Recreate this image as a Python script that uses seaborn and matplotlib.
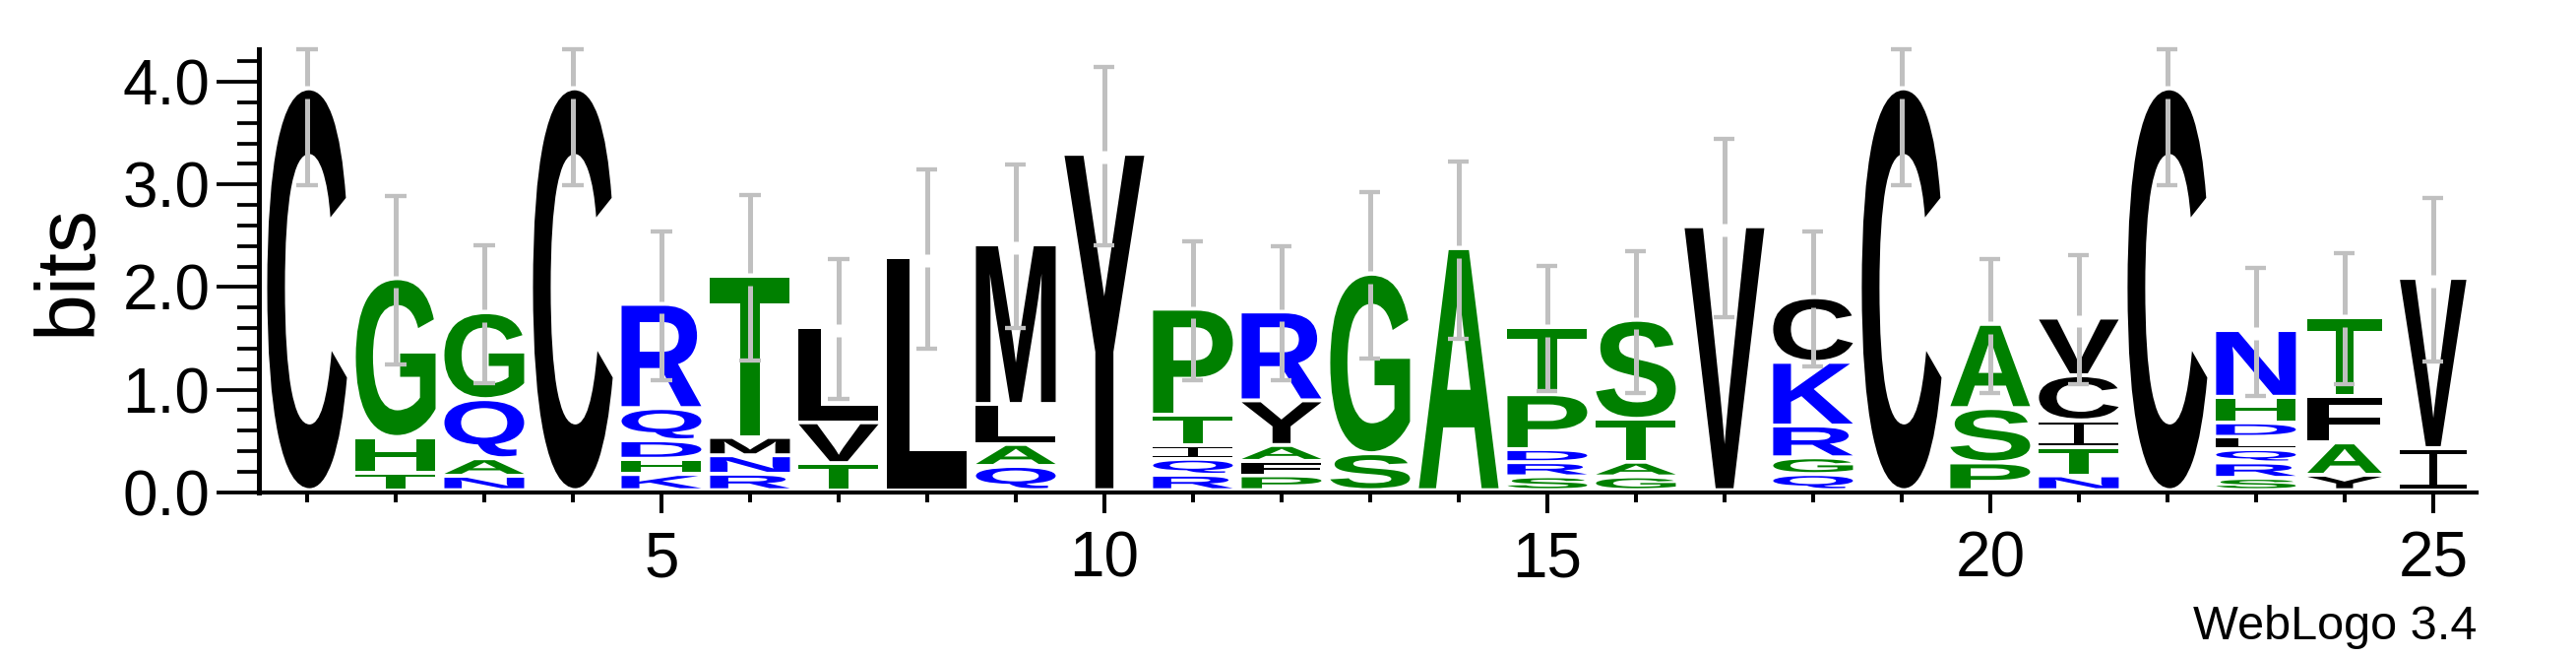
import matplotlib
matplotlib.use("Agg")
import matplotlib.pyplot as plt
import seaborn as sns
from matplotlib.textpath import TextPath
from matplotlib.font_manager import FontProperties
from matplotlib.patches import PathPatch
from matplotlib.path import Path
from matplotlib.transforms import Affine2D
from matplotlib.ticker import MultipleLocator

# ---------------- data ----------------
positions = list(range(1, 26))
# letters of each stack, bottom to top
stack_letters = ["C", "THG", "NAQG", "C", "KHDQR", "RNMT", "TVL", "L", "QALM", "Y",
                 "RQITP", "PFAYR", "SG", "A", "SRDPT", "GATS", "V", "QGRKC", "C",
                 "PSA", "NTICV", "C", "SRQLDHN", "YAFT", "IV"]
# bits for each letter, bottom to top
stack_heights = [
    [3.915],
    [0.167, 0.351, 1.547],
    [0.14, 0.171, 0.576, 0.847],
    [3.915],
    [0.157, 0.149, 0.18, 0.314, 1.015],
    [0.16, 0.18, 0.178, 1.57],
    [0.264, 0.397, 0.927],
    [2.27],
    [0.236, 0.214, 0.39, 1.555],
    [3.277],
    [0.15, 0.156, 0.134, 0.295, 1.033],
    [0.144, 0.141, 0.155, 0.435, 0.866],
    [0.36, 1.749],
    [2.358],
    [0.135, 0.138, 0.127, 0.535, 0.656],
    [0.134, 0.143, 0.418, 0.965],
    [2.571],
    [0.157, 0.163, 0.31, 0.62, 0.63],
    [3.915],
    [0.27, 0.53, 0.82],
    [0.144, 0.276, 0.26, 0.44, 0.561],
    [3.915],
    [0.12, 0.15, 0.13, 0.12, 0.14, 0.25, 0.65],
    [0.15, 0.315, 0.455, 0.768],
    [0.41, 1.658],
]
stack_errors = [0.92, 0.82, 0.67, 0.92, 0.72, 0.81, 0.68, 0.87, 0.80, 0.87,
                0.68, 0.65, 0.81, 0.86, 0.61, 0.69, 0.87, 0.66, 0.92, 0.655,
                0.63, 0.92, 0.62, 0.64, 0.80]
ytick_values = [0, 1, 2, 3, 4]
ytick_labels = ["0.0", "1.0", "2.0", "3.0", "4.0"]
xtick_values = [5, 10, 15, 20, 25]
xtick_labels = ["5", "10", "15", "20", "25"]
y_label = "bits"
footer = "WebLogo 3.4"
max_bits = 4.32

# ---------------- style ----------------
sns.set_theme(style="ticks")
plt.rcParams["font.family"] = ["Liberation Sans", "DejaVu Sans"]
for k in ["axes.edgecolor", "xtick.color", "ytick.color", "text.color", "axes.labelcolor"]:
    plt.rcParams[k] = "black"

GREEN, BLUE, BLACK, GRAY = "#008000", "#0000ff", "#000000", "#c0c0c0"
letter_colors = {}
for c in "GHTAPS":
    letter_colors[c] = GREEN
for c in "QNRDK":
    letter_colors[c] = BLUE
for c in "CMLVYIF":
    letter_colors[c] = BLACK

base = 0.04      # letters start slightly above the axis line
gap = 0.038      # small vertical gap between stacked letters
default_width = 0.9
special_width = {24: 0.84, 25: 0.75}

W, H = 2617, 667
fig = plt.figure(figsize=(W / 100, H / 100), dpi=100)
ax = fig.add_axes([262.5 / W, 1 - 499.8 / H, (2516 - 262.5) / W, (499.8 - 49.7) / H])
ax.set_facecolor("white")
ax.set_xlim(0.45, 25.49)
ax.set_ylim(0, max_bits)

bold = FontProperties(family="Liberation Sans", weight="bold")
_cache = {}


def glyph_path(letter):
    if letter in _cache:
        return _cache[letter]
    if letter == "I":
        rects = []
        for (x0, y0, x1, y1) in [(0, 0, 1, 0.1), (0, 0.9, 1, 1), (0.44, 0.1, 0.56, 0.9)]:
            rects.append(Path([(x0, y0), (x1, y0), (x1, y1), (x0, y1), (x0, y0)],
                              [Path.MOVETO, Path.LINETO, Path.LINETO, Path.LINETO, Path.CLOSEPOLY]))
        p = Path.make_compound_path(*rects)
    else:
        p = TextPath((0, 0), letter, size=1, prop=bold)
    _cache[letter] = p
    return p


def draw_letter(ax, letter, xc, y0, w, h, color):
    p = glyph_path(letter)
    ext = p.get_extents()
    tr = (Affine2D().translate(-ext.x0, -ext.y0)
          .scale(w / ext.width, h / ext.height)
          .translate(xc - w / 2, y0))
    ax.add_patch(PathPatch(tr.transform_path(p), facecolor=color, edgecolor="none",
                           lw=0, zorder=2))


for pos, letters, heights, err in zip(positions, stack_letters, stack_heights, stack_errors):
    w = special_width.get(pos, default_width)
    y = base
    for letter, h in zip(letters, heights):
        draw_letter(ax, letter, pos, y, w, h - gap, letter_colors[letter])
        y += h
    top = y - gap
    upper = min(top + err, max_bits)
    lower = top - err
    ax.vlines(pos, top + 0.045, upper, colors=GRAY, lw=3.6, zorder=3,
              clip_on=False, capstyle="butt")
    ax.vlines(pos, lower, top - 0.075, colors=GRAY, lw=3.6, zorder=3,
              clip_on=False, capstyle="butt")
    ax.hlines([upper, lower], pos - 0.117, pos + 0.117, colors=GRAY, lw=3.1,
              zorder=3, clip_on=False, capstyle="butt")

# axes
sns.despine(ax=ax, top=True, right=True)
ax.spines["left"].set_linewidth(3.6)
ax.spines["bottom"].set_linewidth(3.0)
ax.spines["left"].set_zorder(5)
ax.spines["bottom"].set_zorder(5)

ax.set_yticks(ytick_values)
ax.set_yticklabels(ytick_labels, fontsize=46)
ax.yaxis.set_minor_locator(MultipleLocator(0.2))
ax.tick_params(axis="y", which="major", length=30.7, width=2.7, pad=4.6, direction="out")
ax.tick_params(axis="y", which="minor", length=15.5, width=2.7, direction="out")

ax.set_xticks(xtick_values)
ax.set_xticklabels(xtick_labels, fontsize=46)
ax.set_xticks(positions, minor=True)
ax.tick_params(axis="x", which="major", length=15, width=2.9, pad=13, direction="out")
ax.tick_params(axis="x", which="minor", length=7.3, width=2.9, direction="out")
ax.grid(False)

fig.text(70 / W, 1 - 274 / H, y_label, rotation=90, ha="center", va="center", fontsize=62)
fig.text(2516 / W, 1 - 649 / H, footer, ha="right", va="baseline", fontsize=35)

fig.savefig("out.png", dpi=100, facecolor="white")
